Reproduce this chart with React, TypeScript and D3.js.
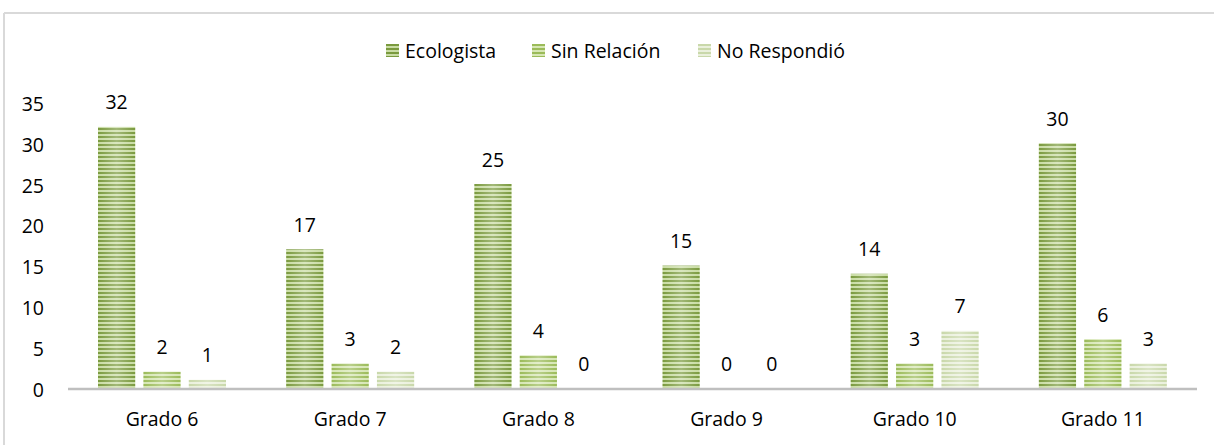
import React from "react";
import * as d3 from "d3";

const categories = ["Grado 6", "Grado 7", "Grado 8", "Grado 9", "Grado 10", "Grado 11"];
const seriesNames = ["Ecologista", "Sin Relación", "No Respondió"];
const ecologista = [32, 17, 25, 15, 14, 30];
const sinRelacion = [2, 3, 4, 0, 3, 6];
const noRespondio = [1, 2, 0, 0, 7, 3];
const yTicks = [0, 5, 10, 15, 20, 25, 30, 35];

const seriesValues = [ecologista, sinRelacion, noRespondio];
const stripeDark = ["#7a9a3e", "#9bbb59", "#c9d8aa"];
const stripeLight = ["#c9dca4", "#d6e6b4", "#eaf0dc"];

const W = 1214;
const H = 445;
const FONT = "'Open Sans', sans-serif";
const FS = 19.5;

export default function App() {
  const x0 = d3.scaleBand<string>().domain(categories).range([68, 1197]).paddingInner(0).paddingOuter(0);
  const x1 = d3.scaleBand<string>().domain(seriesNames).range([30, 158]).paddingInner(0.18).paddingOuter(0);
  const y = d3.scaleLinear().domain([0, 35]).range([388, 102.4]);

  const legendX = [386, 532, 698];

  return (
    <svg width={W} height={H} style={{ position: "absolute", left: 0, top: 0, fontFamily: FONT }}>
      <defs>
        {seriesNames.map((s, i) => (
          <pattern key={s} id={`stripe${i}`} patternUnits="userSpaceOnUse" x={0} y={0} width={8} height={4}>
            <rect x={0} y={0} width={8} height={4} fill={stripeLight[i]} />
            <rect x={0} y={0} width={8} height={2} fill={stripeDark[i]} />
          </pattern>
        ))}
        <linearGradient id="shine" x1="0" x2="1" y1="0" y2="0">
          <stop offset="0" stopColor="#ffffff" stopOpacity={0} />
          <stop offset="0.5" stopColor="#ffffff" stopOpacity={0.3} />
          <stop offset="1" stopColor="#ffffff" stopOpacity={0} />
        </linearGradient>
      </defs>
      <rect x={0} y={0} width={W} height={H} fill="#ffffff" />
      {/* frame */}
      <line x1={4} x2={4} y1={13} y2={H} stroke="#d9d9d9" strokeWidth={2} />
      <line x1={4} x2={W} y1={13} y2={13} stroke="#d9d9d9" strokeWidth={2} />

      {/* legend */}
      {seriesNames.map((s, i) => {
        const lx = legendX[i];
        return (
          <g key={s}>
            <rect x={lx} y={44} width={13} height={13} fill={`url(#stripe${i})`} />
            <text x={lx + 19} y={50} dominantBaseline="central" fontSize={FS} fill="#000">
              {s}
            </text>
          </g>
        );
      })}

      {/* y tick labels */}
      {yTicks.map((t) => (
        <text key={t} x={44} y={y(t) + 1} dominantBaseline="central" textAnchor="end" fontSize={FS} fill="#000">
          {t}
        </text>
      ))}

      {/* bars */}
      {categories.map((c, ci) => (
        <g key={c} transform={`translate(${x0(c)},0)`}>
          {seriesNames.map((s, si) => {
            const v = seriesValues[si][ci];
            const bx = x1(s)!;
            const bw = x1.bandwidth();
            const top = y(v);
            return (
              <g key={s}>
                {v > 0 && (
                  <>
                    <rect x={bx} y={top} width={bw} height={y(0) - top} fill={`url(#stripe${si})`} />
                    <rect x={bx} y={top} width={bw} height={y(0) - top} fill="url(#shine)" />
                  </>
                )}
                <text x={bx + bw / 2} y={top - 25} textAnchor="middle" dominantBaseline="central" fontSize={FS} fill="#000">
                  {v}
                </text>
              </g>
            );
          })}
          <text x={x0.bandwidth() / 2} y={418} textAnchor="middle" dominantBaseline="central" fontSize={FS} fill="#000">
            {c}
          </text>
        </g>
      ))}

      {/* x axis line */}
      <line x1={68} x2={1197} y1={y(0) + 1} y2={y(0) + 1} stroke="#bfbfbf" strokeWidth={2.5} />
    </svg>
  );
}
